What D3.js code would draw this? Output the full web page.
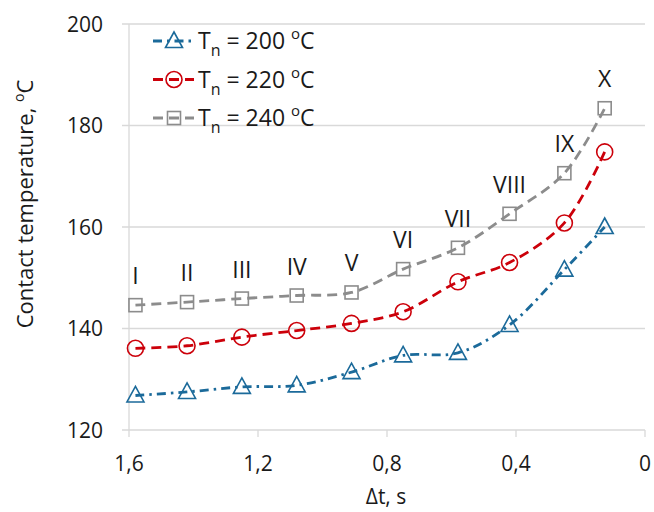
<!DOCTYPE html>
<html lang="en">
<head>
<meta charset="UTF-8">
<title>Contact temperature</title>
<script src="https://d3js.org/d3.v7.min.js"></script>
<style>
  body { margin: 0; background: #fff; }
  svg text { font-family: "Open Sans", "Noto Sans", sans-serif; fill: #1a1a1a; }
</style>
</head>
<body>
<svg id="chart" width="654" height="512"></svg>
<script>
// data
const dt = [1.58, 1.42, 1.25, 1.08, 0.91, 0.75, 0.58, 0.42, 0.25, 0.125];
const t200 = [126.8, 127.5, 128.5, 128.8, 131.4, 134.7, 135.2, 140.7, 151.6, 160.0];
const t220 = [136.1, 136.6, 138.3, 139.6, 141.0, 143.3, 149.2, 153.0, 160.8, 174.8];
const t240 = [144.6, 145.2, 145.9, 146.5, 147.1, 151.7, 155.9, 162.6, 170.6, 183.4];
const stageLabels = ["I", "II", "III", "IV", "V", "VI", "VII", "VIII", "IX", "X"];
const seriesNames = ["200", "220", "240"];
const yTicks = [120, 140, 160, 180, 200];
const xTicks = [1.6, 1.2, 0.8, 0.4, 0];

const series = [
  { name: seriesNames[0], values: t200, color: "#1b6a9a", dash: "9,5,2.5,5", marker: "triangle" },
  { name: seriesNames[1], values: t220, color: "#cc000a", dash: "10,6", marker: "circle" },
  { name: seriesNames[2], values: t240, color: "#8c8c8c", dash: "10,6", marker: "square" }
];

const svg = d3.select("#chart");
const plotL = 129, plotR = 645, plotT = 24, plotB = 430;

const x = d3.scaleLinear().domain([1.6, 0]).range([plotL, plotR]);
const y = d3.scaleLinear().domain([120, 200]).range([plotB, plotT]);

// grid
svg.append("g")
  .selectAll("line")
  .data(yTicks)
  .join("line")
  .attr("x1", plotL - 7).attr("x2", plotR)
  .attr("y1", d => y(d)).attr("y2", d => y(d))
  .attr("stroke", "#d9d9d9").attr("stroke-width", 1.3);

svg.append("line")
  .attr("x1", plotL).attr("x2", plotL).attr("y1", plotT).attr("y2", plotB)
  .attr("stroke", "#d9d9d9").attr("stroke-width", 1.3);

svg.append("g")
  .selectAll("line")
  .data(xTicks)
  .join("line")
  .attr("x1", d => x(d)).attr("x2", d => x(d))
  .attr("y1", plotB).attr("y2", plotB + 7)
  .attr("stroke", "#d9d9d9").attr("stroke-width", 1.3);

// tick labels
svg.append("g")
  .selectAll("text")
  .data(yTicks)
  .join("text")
  .attr("x", 103).attr("y", d => y(d))
  .attr("dy", "0.36em")
  .attr("text-anchor", "end")
  .attr("font-size", 21)
  .text(d => d);

svg.append("g")
  .selectAll("text")
  .data(xTicks)
  .join("text")
  .attr("x", d => x(d)).attr("y", 471)
  .attr("text-anchor", "middle")
  .attr("font-size", 21)
  .text(d => d === 0 ? "0" : d.toFixed(1).replace(".", ","));

// axis titles
svg.append("text")
  .attr("x", 386).attr("y", 504)
  .attr("text-anchor", "middle")
  .attr("font-size", 21)
  .text("\u0394t, s");

const yTitle = svg.append("text")
  .attr("transform", "translate(33,204) rotate(-90)")
  .attr("text-anchor", "middle")
  .attr("font-size", 22);
yTitle.append("tspan").text("Contact temperature, ");
yTitle.append("tspan").attr("font-size", 14).attr("dy", -9).text("o");
yTitle.append("tspan").attr("dy", 9).text("C");

// markers
function drawMarker(g, type, color) {
  if (type === "circle") {
    g.append("circle").attr("r", 8);
  } else if (type === "square") {
    g.append("rect").attr("x", -6.5).attr("y", -6.5).attr("width", 13).attr("height", 13);
  } else {
    g.append("path").attr("d", "M0,-9L8.5,6.5L-8.5,6.5Z");
  }
  g.selectAll("*").attr("fill", "none").attr("stroke", color).attr("stroke-width", 1.6);
}

const line = d3.line()
  .x((d, i) => x(dt[i]))
  .y(d => y(d))
  .curve(d3.curveCatmullRom.alpha(0.5));

series.forEach(s => {
  svg.append("path")
    .datum(s.values)
    .attr("d", line)
    .attr("fill", "none")
    .attr("stroke", s.color)
    .attr("stroke-width", 2.8)
    .attr("stroke-dasharray", s.dash);

  s.values.forEach((v, i) => {
    const g = svg.append("g").attr("transform", `translate(${x(dt[i])},${y(v)})`);
    drawMarker(g, s.marker, s.color);
  });
});

// stage labels above the top series
svg.append("g")
  .selectAll("text")
  .data(stageLabels)
  .join("text")
  .attr("x", (d, i) => x(dt[i]))
  .attr("y", (d, i) => y(t240[i]) - 21)
  .attr("text-anchor", "middle")
  .attr("font-size", 23)
  .text(d => d);

// legend
const legend = svg.append("g");
series.forEach((s, i) => {
  const ly = 41 + i * 38.5;
  legend.append("line")
    .attr("x1", 153).attr("x2", 194).attr("y1", ly).attr("y2", ly)
    .attr("stroke", s.color).attr("stroke-width", 2.8)
    .attr("stroke-dasharray", s.marker === "triangle" ? "9,5,2.5,5" : "10,6");
  const g = legend.append("g").attr("transform", `translate(174,${ly})`);
  drawMarker(g, s.marker, s.color);

  const t = legend.append("text")
    .attr("x", 198).attr("y", ly + 8)
    .attr("font-size", 23);
  t.append("tspan").text("T");
  t.append("tspan").attr("font-size", 16).attr("dy", 7).text("n");
  t.append("tspan").attr("dy", -7).text(` = ${s.name} `);
  t.append("tspan").attr("font-size", 15).attr("dy", -10).text("o");
  t.append("tspan").attr("dy", 10).text("C");
});
</script>
</body>
</html>
